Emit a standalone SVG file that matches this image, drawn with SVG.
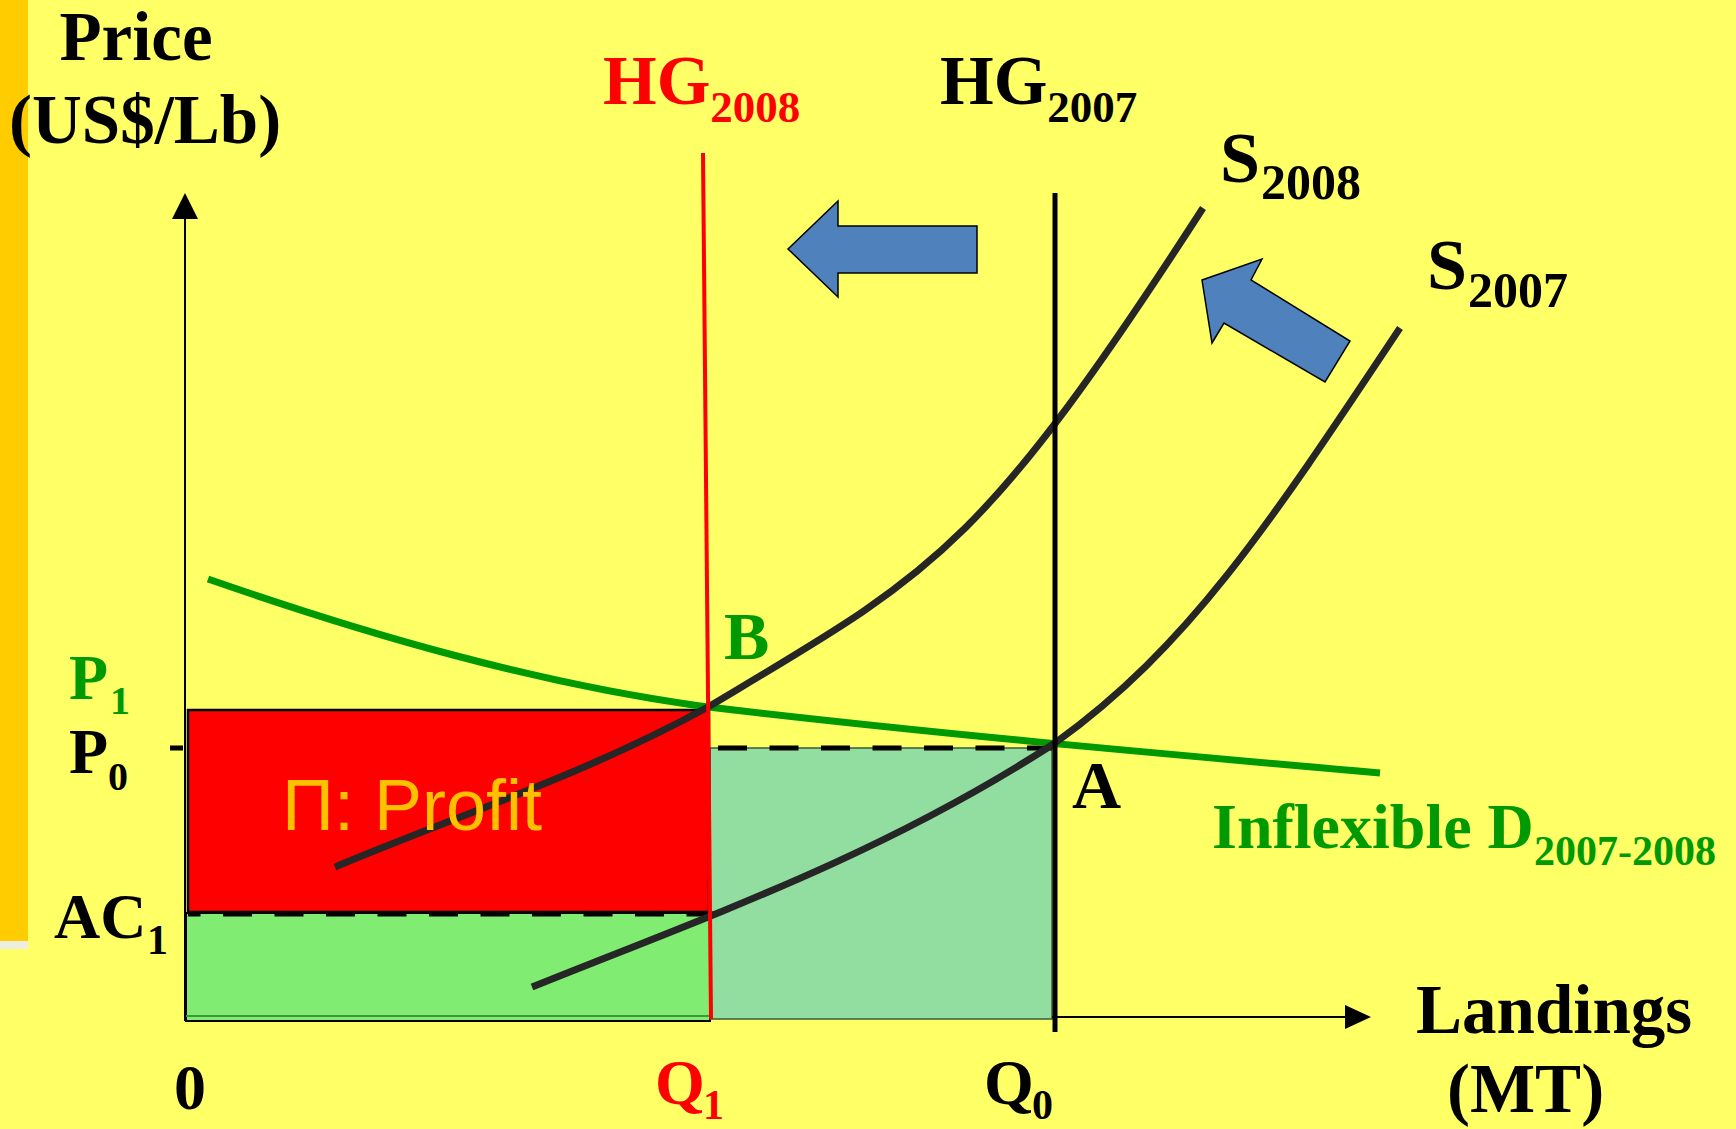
<svg xmlns="http://www.w3.org/2000/svg" width="1736" height="1129" viewBox="0 0 1736 1129">
<style>
.t{font-family:"Liberation Serif","Times New Roman",serif;font-weight:bold}
.blk{fill:#000}
.grn{fill:#009900}
.red{fill:#FF0000}
.curve{fill:none;stroke:#262626;stroke-width:7}
.dash{fill:none;stroke:#000;stroke-width:5;stroke-dasharray:29 22.5}
.blue{fill:#4F81BD;stroke:#000;stroke-width:1.5}
</style>
<rect x="0" y="0" width="1736" height="1129" fill="#FFFF66"/>
<rect x="0" y="0" width="28" height="941" fill="#FFCC00"/>
<rect x="0" y="941" width="28" height="8" fill="#EEEEE0"/>

<g id="areas">
  <rect id="cost-area" x="186" y="913" width="524" height="108" fill="#80EC72" stroke="#000" stroke-width="2"/>
  <line x1="186" y1="1016" x2="710" y2="1016" stroke="#3C9A3C" stroke-width="2"/>
  <rect id="lost-area" x="710" y="748" width="342" height="271" fill="#92DEA0" stroke="#3A5A3A" stroke-width="1.5"/>
  <rect id="profit-area" x="188" y="710" width="521" height="202" fill="#FF0000" stroke="#000" stroke-width="2.5"/>
</g>

<g id="connectors">
  <line id="p0-dash" class="dash" x1="718" y1="748" x2="1052" y2="748"/>
  <line id="ac1-dash" class="dash" x1="188" y1="914" x2="715" y2="914" stroke-dashoffset="16.5"/>
  <line id="p0-tick" x1="170" y1="748" x2="183" y2="748" stroke="#000" stroke-width="5"/>
  <path id="demand" d="M208,579 C372,636 536,683 700,706 C927,733 1153,753 1380,773" fill="none" stroke="#009900" stroke-width="7"/>
  <path id="s2008" class="curve" d="M335,867 C459,815 584,775 708,707 C932,573 979,555 1203,208"/>
  <path id="s2007" class="curve" d="M532,987 C706,917 881,856 1055,743 C1188,647 1267,528 1400,328"/>
  <line id="hg2008-line" x1="703" y1="153" x2="711" y2="1019" stroke="#FF0000" stroke-width="4"/>
  <line id="hg2007-line" x1="1055" y1="193" x2="1055" y2="1032" stroke="#000" stroke-width="5"/>
  <line id="y-axis" x1="185" y1="215" x2="185" y2="1021" stroke="#000" stroke-width="2"/>
  <polygon points="185,193 172,219 198,219" fill="#000"/>
  <line id="x-axis" x1="1052" y1="1017" x2="1350" y2="1017" stroke="#000" stroke-width="2"/>
  <polygon points="1371,1017 1345,1005 1345,1029" fill="#000"/>
  <polygon id="shift-left" class="blue" points="788,249 838,201 838,226 977,226 977,273 838,273 838,297"/>
  <polygon id="shift-up" class="blue" points="1202,280 1262,259 1251,280 1350,341 1325,382 1224,323 1212,343"/>
</g>

<g id="labels">
  <g id="price-label">
    <text class="t blk" x="136" y="60" font-size="69" text-anchor="middle">Price</text>
    <text class="t blk" x="9" y="143" font-size="69">(US$/Lb)</text>
  </g>
  <g id="hg2008-label"><text class="t red" x="603" y="104" font-size="69">HG<tspan font-size="45" y="122">2008</tspan></text></g>
  <g id="hg2007-label"><text class="t blk" x="940" y="104" font-size="69">HG<tspan font-size="45" y="122">2007</tspan></text></g>
  <g id="s2008-label"><text class="t blk" x="1220" y="182" font-size="72">S<tspan font-size="50" x="1261" y="199">2008</tspan></text></g>
  <g id="s2007-label"><text class="t blk" x="1427" y="289" font-size="72">S<tspan font-size="50" x="1468" y="307">2007</tspan></text></g>
  <g id="p1-label"><text class="t grn" x="69" y="699" font-size="64">P<tspan font-size="40" x="110" y="714">1</tspan></text></g>
  <g id="p0-label"><text class="t blk" x="69" y="773" font-size="64">P<tspan font-size="40" x="108" y="790">0</tspan></text></g>
  <g id="ac1-label"><text class="t blk" x="54" y="938" font-size="64">AC<tspan font-size="42" x="147" y="954">1</tspan></text></g>
  <g id="origin-label"><text class="t blk" x="174" y="1109" font-size="64">0</text></g>
  <g id="q1-label"><text class="t red" x="655" y="1104" font-size="64">Q<tspan font-size="42" x="703" y="1119">1</tspan></text></g>
  <g id="q0-label"><text class="t blk" x="984" y="1104" font-size="64">Q<tspan font-size="42" x="1032" y="1119">0</tspan></text></g>
  <g id="b-label"><text class="t grn" x="724" y="659" font-size="68">B</text></g>
  <g id="a-label"><text class="t blk" x="1072" y="808" font-size="68">A</text></g>
  <g id="demand-label"><text class="t grn" x="1212" y="848" font-size="64">Inflexible D<tspan font-size="42" x="1534" y="865">2007-2008</tspan></text></g>
  <g id="landings-label">
    <text class="t blk" x="1416" y="1033" font-size="69">Landings</text>
    <text class="t blk" x="1447" y="1112" font-size="69">(MT)</text>
  </g>
  <g id="profit-label"><text x="282" y="830" font-size="72" font-family="'Liberation Sans',Arial,sans-serif" fill="#FFC000">Π: Profit</text></g>
</g>
</svg>
